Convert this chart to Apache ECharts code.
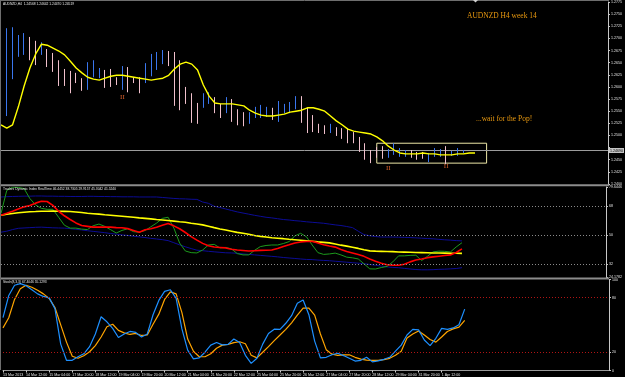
<!DOCTYPE html>
<html><head><meta charset="utf-8">
<script src="https://cdn.jsdelivr.net/npm/echarts@6/dist/echarts.min.js"></script>
<style>html,body{margin:0;padding:0;background:#000;overflow:hidden}#c{width:625px;height:377px}</style>
</head><body><div id="c"></div>
<script>
// ---- tick labels / categories ----
const timeLabels = ['13 Mar 2013','14 Mar 12:00','15 Mar 04:00','17 Mar 20:00','18 Mar 12:00','19 Mar 04:00','19 Mar 20:00','20 Mar 12:00','21 Mar 04:00','21 Mar 20:00','22 Mar 12:00','25 Mar 04:00','25 Mar 20:00','26 Mar 12:00','27 Mar 04:00','27 Mar 20:00','28 Mar 12:00','29 Mar 04:00','31 Mar 20:00','1 Apr 12:00'];
const slotCount = 106;

// ---- price bars (H4) ----
const barOpen  = [1.2520,1.2560,1.2630,1.2668,1.2672,1.2696,1.2688,1.2670,1.2672,1.2664,1.2648,1.2632,1.2626,1.2625,1.2614,1.2600,1.2625,1.2622,1.2630,1.2632,1.2617,1.2600,1.2634,1.2618,1.2615,1.2613,1.2628,1.2640,1.2651,1.2670,1.2662,1.2645,1.2595,1.2580,1.2562,1.2561,1.2568,1.2575,1.2561,1.2550,1.2569,1.2550,1.2544,1.2527,1.2539,1.2540,1.2541,1.2554,1.2533,1.2548,1.2549,1.2557,1.2575,1.2551,1.2538,1.2521,1.2518,1.2507,1.2514,1.2512,1.2511,1.2504,1.2493,1.2480,1.2466,1.2473,1.2474,1.2456,1.2463,1.2458,1.2458,1.2467,1.2464,1.2464,1.2447,1.2458,1.2458,1.2473,1.2459,1.2460,1.2465];
const barClose = [1.2570,1.2700,1.2705,1.2700,1.2704,1.2662,1.2652,1.2688,1.2646,1.2636,1.2610,1.2607,1.2594,1.2611,1.2596,1.2644,1.2650,1.2636,1.2603,1.2605,1.2607,1.2637,1.2595,1.2610,1.2592,1.2644,1.2662,1.2667,1.2672,1.2647,1.2570,1.2560,1.2570,1.2532,1.2530,1.2583,1.2585,1.2550,1.2540,1.2575,1.2533,1.2525,1.2523,1.2545,1.2556,1.2559,1.2556,1.2535,1.2566,1.2562,1.2566,1.2578,1.2531,1.2510,1.2511,1.2508,1.2506,1.2521,1.2502,1.2496,1.2488,1.2487,1.2470,1.2454,1.2447,1.2457,1.2455,1.2469,1.2480,1.2471,1.2468,1.2456,1.2452,1.2454,1.2461,1.2471,1.2469,1.2446,1.2466,1.2471,1.2469];
const barLow   = [1.2505,1.2540,1.2616,1.2662,1.2666,1.2655,1.2645,1.2666,1.2641,1.2631,1.2602,1.2602,1.2587,1.2608,1.2592,1.2594,1.2620,1.2618,1.2598,1.2600,1.2604,1.2594,1.2589,1.2608,1.2587,1.2608,1.2622,1.2635,1.2647,1.2643,1.2561,1.2552,1.2565,1.2526,1.2524,1.2557,1.2565,1.2546,1.2536,1.2546,1.2528,1.2521,1.2519,1.2524,1.2536,1.2536,1.2538,1.2532,1.2528,1.2546,1.2546,1.2554,1.2526,1.2505,1.2507,1.2505,1.2503,1.2505,1.2499,1.2493,1.2484,1.2484,1.2466,1.2450,1.2443,1.2454,1.2452,1.2454,1.2460,1.2456,1.2456,1.2454,1.2450,1.2452,1.2445,1.2456,1.2456,1.2441,1.2458,1.2458,1.2464];
const barHigh  = [1.2579,1.2721,1.2723,1.2707,1.2711,1.2703,1.2695,1.2692,1.2678,1.2670,1.2655,1.2637,1.2633,1.2629,1.2618,1.2651,1.2655,1.2639,1.2635,1.2637,1.2620,1.2643,1.2641,1.2620,1.2620,1.2649,1.2668,1.2672,1.2676,1.2674,1.2672,1.2655,1.2600,1.2587,1.2567,1.2587,1.2589,1.2579,1.2565,1.2579,1.2575,1.2554,1.2548,1.2548,1.2559,1.2563,1.2559,1.2557,1.2571,1.2565,1.2569,1.2581,1.2581,1.2557,1.2542,1.2524,1.2521,1.2524,1.2517,1.2515,1.2515,1.2507,1.2497,1.2484,1.2470,1.2476,1.2478,1.2472,1.2484,1.2474,1.2470,1.2470,1.2466,1.2466,1.2464,1.2474,1.2472,1.2478,1.2468,1.2474,1.2470];
// shifted moving average (extends two bars past the last bar)
const maLine = [1.2522,1.2515,1.2522,1.2559,1.2602,1.2639,1.2668,1.2688,1.2686,1.2680,1.2674,1.2666,1.2653,1.2639,1.2629,1.2620,1.2616,1.2614,1.2618,1.2622,1.2624,1.2624,1.2622,1.2620,1.2618,1.2616,1.2614,1.2616,1.2618,1.2624,1.2637,1.2647,1.2651,1.2647,1.2635,1.2604,1.2581,1.2567,1.2565,1.2565,1.2565,1.2563,1.2561,1.2552,1.2546,1.2542,1.2540,1.2540,1.2542,1.2544,1.2548,1.2550,1.2552,1.2557,1.2557,1.2554,1.2550,1.2540,1.2530,1.2522,1.2513,1.2509,1.2507,1.2505,1.2503,1.2497,1.2489,1.2478,1.2470,1.2464,1.2462,1.2462,1.2462,1.2464,1.2462,1.2462,1.2460,1.2460,1.2460,1.2462,1.2462,1.2464,1.2464];
// annotations
const markII = [[21,1.2579],[67,1.2433],[77,1.2437]];
const boxStart = 65, boxEnd = 84, boxTop = 1.2484, boxBottom = 1.2443;
const priceMin = 1.2400, priceMax = 1.2775, priceStep = 0.0025;

// ---- Traders Dynamic Index ----
const tdiUpper  = [73.5,73.7,73.8,73.9,74.0,74.0,74.1,74.1,74.0,74.0,73.9,73.9,73.8,73.8,73.8,73.9,73.9,73.8,73.8,73.7,73.7,73.6,73.6,73.6,73.5,73.5,73.5,73.5,73.2,72.9,72.6,72.4,72.3,72.1,72.0,70.4,69.6,67.8,67.0,66.1,65.2,64.3,63.6,62.9,62.2,61.6,61.0,60.6,60.1,59.6,59.3,58.9,58.6,58.2,57.9,57.6,57.3,56.8,56.3,55.9,55.3,54.6,52.4,50.3,49.6,49.1,48.8,48.8,48.8,48.7,48.6,48.5,48.3,48.1,47.9,47.7,47.4,47.1,46.9,46.6,46.4452];
const tdiMiddle = [62.2,62.8,63.3,63.8,64.1,64.4,64.5,64.7,64.7,64.8,64.7,64.6,64.5,64.2,63.9,63.5,63.2,62.9,62.5,62.2,61.9,61.6,61.3,61.0,60.6,60.3,60.0,59.6,59.3,59.0,58.6,58.2,57.9,57.3,56.8,56.3,55.5,54.6,53.8,53.1,52.4,51.7,51.1,50.5,49.8,49.2,48.8,48.4,48.1,47.8,47.4,47.1,46.8,46.5,46.2,45.8,45.5,45.2,44.5,43.8,43.2,42.5,41.8,41.0,40.3,40.1,40.0,39.9,39.8,39.6,39.5,39.4,39.3,39.2,39.1,39.0,39.0,38.9,38.8,38.8,38.7305];
const tdiLower  = [51.8,52.4,53.4,54.2,54.4,54.6,54.8,54.9,54.7,54.5,54.4,54.3,54.0,53.6,53.2,52.7,52.3,51.9,51.5,51.0,50.6,50.1,49.8,49.3,48.9,48.5,48.0,47.6,47.2,46.6,45.3,44.0,42.8,41.7,40.7,40.4,40.0,39.7,39.4,39.1,39.0,38.8,38.4,38.1,37.8,37.5,37.2,36.9,36.6,36.2,35.9,35.6,35.3,35.0,34.9,34.6,34.4,34.2,33.9,33.6,33.3,33.0,32.7,32.4,31.9,31.4,30.9,30.4,30.1,29.9,29.5,29.1,28.8,28.6,28.6,28.7,28.9,29.0,29.2,29.4,29.9157];
const tdiPrice  = [63.4,77.5,79.5,79.4,78.7,72.6,68.6,66.5,65.9,65.9,61.0,56.1,54.3,54.3,53.7,53.4,55.8,56.8,55.4,53.4,51.3,52.9,53.9,52.1,51.8,52.8,55.1,57.4,60.3,61.0,54.3,45.1,40.2,39.2,39.0,40.8,43.9,44.3,42.1,42.4,41.5,38.6,37.8,37.8,40.6,42.9,43.6,43.9,43.9,44.8,46.0,49.5,51.1,49.0,43.9,39.2,38.1,38.4,38.9,37.8,36.4,36.0,35.3,32.3,29.2,29.1,30.0,30.7,33.5,37.2,37.2,37.5,37.6,34.3,36.9,39.7,40.1,40.0,39.6,42.7,45.3042];
const tdiSignal = [62.2,63.4,64.7,66.1,67.4,68.3,69.7,70.8,70.7,68.3,64.7,61.9,59.6,57.5,55.9,55.4,54.9,54.9,54.9,54.9,54.6,54.5,54.0,52.9,51.8,53.3,53.9,54.9,56.1,57.1,55.7,53.9,51.6,49.1,46.9,44.9,43.4,42.7,42.4,42.1,41.3,40.8,40.5,40.2,40.4,40.6,40.7,40.8,41.8,43.0,44.0,45.1,45.8,46.1,46.2,45.2,44.1,43.3,42.6,41.1,39.9,39.0,38.0,36.9,35.3,33.9,32.6,31.7,31.4,31.4,32.0,33.5,34.7,35.3,36.1,36.6,37.0,37.4,37.8,39.3,41.5240];
const tdiMin = 24.1782, tdiMax = 79.6446, tdiLevels = [32, 50, 68];

// ---- Stochastic ----
const stochMain   = [58.0,82.5,93.7,95.4,93.2,88.7,84.2,81.4,79.8,68.0,29.0,11.2,11.2,15.1,18.4,26.2,40.1,59.1,53.5,46.3,36.3,40.1,42.9,41.8,36.8,40.1,61.3,77.0,87.0,88.7,79.2,45.7,22.3,12.8,13.9,20.1,27.9,30.7,28.1,28.7,34.6,30.7,16.7,7.8,13.4,29.0,40.7,45.4,45.2,51.9,60.2,74.0,77.5,61.3,32.3,13.9,14.5,17.3,19.0,16.4,13.4,10.4,11.2,14.5,9.5,10.6,12.3,14.5,21.2,27.9,39.0,45.2,44.6,33.5,27.4,35.4,46.3,45.2,46.8,50.2,67.4046];
const stochSignal = [46.8,58.0,78.1,89.8,93.7,91.5,88.1,84.2,79.2,69.2,50.2,31.2,15.6,13.4,16.2,20.6,27.4,36.8,48.0,50.8,44.1,41.3,39.6,40.7,38.5,39.0,50.8,61.9,78.1,86.4,84.2,63.6,34.6,21.2,15.1,15.1,18.4,24.5,27.9,28.7,30.7,31.6,29.4,16.7,13.9,20.1,26.2,32.9,39.0,45.2,52.4,60.8,68.6,68.6,60.8,40.1,22.9,17.9,16.7,17.1,17.3,14.5,12.5,11.4,11.2,11.2,11.9,13.4,16.7,21.2,35.7,40.1,43.5,39.0,34.0,31.2,36.8,42.9,45.7,47.6,55.1293];
const stochLevels = [20, 80], stochTicks = [0, 20, 80, 100];

// ---- build ----
const slots = Array.from({length: slotCount}, (_, i) => 'b' + i);
const candles = barOpen.map((o, i) => [o, barClose[i], barLow[i], barHigh[i]]);
const bid = barClose[barClose.length - 1];
const small = {fontFamily: 'Liberation Sans', fontSize: 3.6, color: '#e2e2e2'};
const isTimeTick = (idx) => idx % 4 === 0 && idx / 4 < timeLabels.length;

function xAx(g, showLabels) {
  return {
    type: 'category', gridIndex: g, data: slots, boundaryGap: false,
    axisLine: {show: showLabels, onZero: false, lineStyle: {color: '#9a9a9a', width: 1}},
    axisTick: {show: showLabels, interval: isTimeTick, length: 2, lineStyle: {color: '#cfcfcf'}},
    axisLabel: {show: showLabels, interval: isTimeTick, align: 'left', margin: 2, ...small,
      formatter: (v, idx) => timeLabels[idx / 4] || ''},
    splitLine: {show: false}
  };
}
const yCommon = {
  position: 'right', scale: true,
  axisLine: {show: true, lineStyle: {color: '#c8c8c8', width: 1}},
  axisTick: {show: true, length: 2, lineStyle: {color: '#c8c8c8'}},
  splitLine: {show: false}
};

const chart = echarts.init(document.getElementById('c'), null, {renderer: 'canvas'});
chart.setOption({
  backgroundColor: '#000000',
  animation: false,
  grid: [
    {left: 1, right: 16, top: 2, height: 182},
    {left: 1, right: 16, top: 187, height: 90},
    {left: 1, right: 16, top: 279.5, height: 91}
  ],
  xAxis: [xAx(0, false), xAx(1, false), xAx(2, true)],
  yAxis: [
    {...yCommon, gridIndex: 0, min: priceMin, max: priceMax, interval: priceStep,
      axisLabel: {...small, margin: 3, formatter: v => Math.abs(v - bid) < 0.0012 ? '' : v.toFixed(4)}},
    {...yCommon, gridIndex: 1, min: tdiMin, max: tdiMax,
      axisTick: {...yCommon.axisTick, customValues: [tdiMin, ...tdiLevels, tdiMax]},
      axisLabel: {...small, margin: 3, customValues: [tdiMin, ...tdiLevels, tdiMax],
        formatter: v => (tdiLevels.indexOf(v) >= 0 ? String(v) : v.toFixed(4))}},
    {...yCommon, gridIndex: 2, min: 0, max: 100,
      axisTick: {...yCommon.axisTick, customValues: stochTicks},
      axisLabel: {...small, margin: 3, customValues: stochTicks, formatter: v => String(v)}}
  ],
  graphic: [
    {type: 'rect', silent: true, z: 10, shape: {x: 0, y: 184.2, width: 609, height: 2}, style: {fill: '#8c8c8c'}},
    {type: 'rect', silent: true, z: 10, shape: {x: 0, y: 277.4, width: 609, height: 2}, style: {fill: '#8c8c8c'}},
    {type: 'line', silent: true, z: 10, shape: {x1: 0.5, y1: 0, x2: 0.5, y2: 370}, style: {stroke: '#6e6e6e', lineWidth: 1}},
    {type: 'line', silent: true, z: 10, shape: {x1: 0, y1: 0.5, x2: 609, y2: 0.5}, style: {stroke: '#6e6e6e', lineWidth: 1}},
    {type: 'polygon', silent: true, z: 10, shape: {points: [[473, 0], [478, 0], [475.5, 2.5]]}, style: {fill: '#d0d0d0'}},
    {type: 'text', silent: true, z: 11, x: 3, y: 4, style: {text: 'AUDNZD,H4  1.24568 1.24642 1.24470 1.24519', fill: '#e6e6e6', font: '3.3px "Liberation Sans"', textVerticalAlign: 'middle'}},
    {type: 'text', silent: true, z: 11, x: 3, y: 189.5, style: {text: 'Traders Dynamic Index RealTime 46.4452 38.7305 29.9157 45.3042 41.5240', fill: '#e6e6e6', font: '3.3px "Liberation Sans"', textVerticalAlign: 'middle'}},
    {type: 'text', silent: true, z: 11, x: 3, y: 282.3, style: {text: 'Stoch(8,3,3) 67.4046 55.1293', fill: '#e6e6e6', font: '3.3px "Liberation Sans"', textVerticalAlign: 'middle'}},
    {type: 'text', silent: true, z: 11, x: 467, y: 16, style: {text: 'AUDNZD H4 week 14', fill: '#e8980f', font: '7.5px "Liberation Serif"', textVerticalAlign: 'middle'}},
    {type: 'text', silent: true, z: 11, x: 476, y: 119, style: {text: '...wait for the Pop!', fill: '#e8980f', font: '7.5px "Liberation Serif"', textVerticalAlign: 'middle'}}
  ],
  series: [
    {type: 'candlestick', xAxisIndex: 0, yAxisIndex: 0, data: candles, barWidth: 1,
      itemStyle: {color: '#3d7cf2', color0: '#f6d0da', borderColor: '#3a76ee', borderColor0: '#f0c0cc', borderWidth: 1},
      markArea: {silent: true, itemStyle: {color: 'rgba(0,0,0,0)', borderColor: '#ece6a6', borderWidth: 1},
        data: [[{xAxis: boxStart, yAxis: boxTop}, {xAxis: boxEnd, yAxis: boxBottom}]]},
      markPoint: {silent: true, symbol: 'circle', symbolSize: 0, animation: false,
        label: {show: true, position: 'inside', formatter: 'II', color: '#d8602c', fontFamily: 'Liberation Serif', fontSize: 7},
        data: markII.map(p => ({coord: p}))}
    },
    {type: 'line', xAxisIndex: 0, yAxisIndex: 0, data: maLine, symbol: 'none', z: 3,
      lineStyle: {color: '#ffff00', width: 1.4},
      markLine: {silent: true, symbol: ['none', 'none'], animation: false, z: 1,
        lineStyle: {color: '#9c9c9c', width: 1, type: 'solid'},
        label: {show: false},
        data: [[{coord: [0, bid]}, {coord: [slotCount - 1, bid]}]]}},
    {type: 'line', xAxisIndex: 1, yAxisIndex: 1, data: tdiUpper, symbol: 'none',
      lineStyle: {color: '#0c0c96', width: 1},
      markLine: {silent: true, symbol: ['none', 'none'], label: {show: false},
        lineStyle: {color: '#8a8a8a', width: 1, type: [1, 2]}, data: tdiLevels.map(v => ({yAxis: v}))}},
    {type: 'line', xAxisIndex: 1, yAxisIndex: 1, data: tdiLower, symbol: 'none',
      lineStyle: {color: '#0c0c96', width: 1}},
    {type: 'line', xAxisIndex: 1, yAxisIndex: 1, data: tdiPrice, symbol: 'none',
      lineStyle: {color: '#1c9a1c', width: 1}},
    {type: 'line', xAxisIndex: 1, yAxisIndex: 1, data: tdiMiddle, symbol: 'none',
      lineStyle: {color: '#ffff00', width: 1.6}},
    {type: 'line', xAxisIndex: 1, yAxisIndex: 1, data: tdiSignal, symbol: 'none',
      lineStyle: {color: '#ff0000', width: 1.6}},
    {type: 'line', xAxisIndex: 2, yAxisIndex: 2, data: stochSignal, symbol: 'none',
      lineStyle: {color: '#ffa500', width: 1.2},
      markLine: {silent: true, symbol: ['none', 'none'], label: {show: false},
        lineStyle: {color: '#b01414', width: 1, type: [1, 2]}, data: stochLevels.map(v => ({yAxis: v}))}},
    {type: 'line', xAxisIndex: 2, yAxisIndex: 2, data: stochMain, symbol: 'none',
      lineStyle: {color: '#1e90ff', width: 1.2}}
  ]
});
// current-price tag on the price scale, positioned through the axis
const bidY = chart.convertToPixel({yAxisIndex: 0}, bid);
const bidX = chart.convertToPixel({xAxisIndex: 0}, slotCount - 1);
chart.setOption({graphic: [{type: 'text', id: 'bidTag', silent: true, z: 12, x: bidX + 1, y: bidY,
  style: {text: bid.toFixed(5), fill: '#000', backgroundColor: '#c4c4c4', font: '3.6px "Liberation Sans"',
    textVerticalAlign: 'middle', padding: [1, 1, 0, 1]}}]});
</script></body></html>
